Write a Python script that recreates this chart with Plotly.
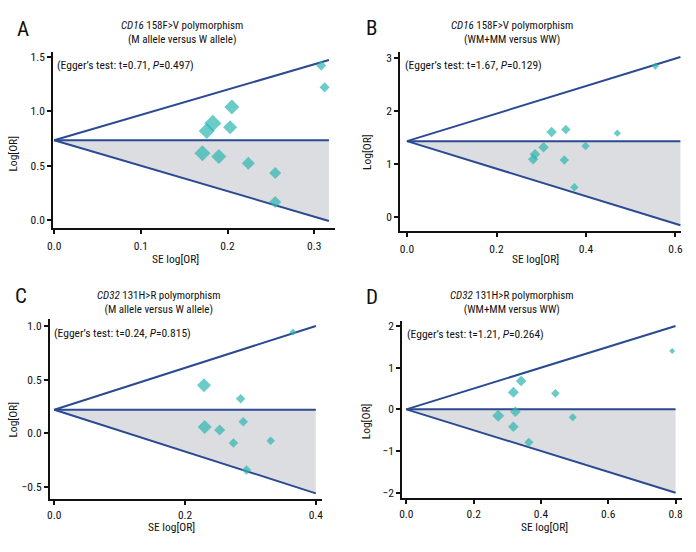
import plotly.graph_objects as go
import math

W, H = 696, 552

# ---------------- data ----------------
panel_letters = ["A", "B", "C", "D"]
panel_genes = ["CD16", "CD16", "CD32", "CD32"]
panel_variants = ["158F&gt;V polymorphism", "158F&gt;V polymorphism",
                  "131H&gt;R polymorphism", "131H&gt;R polymorphism"]
panel_models = ["(M allele versus W allele)", "(WM+MM versus WW)",
                "(M allele versus W allele)", "(WM+MM versus WW)"]
egger_t = ["0.71", "1.67", "0.24", "1.21"]
egger_p = ["0.497", "0.129", "0.815", "0.264"]

# pooled estimate and pseudo-CI limits at the largest SE
pooled = [0.733, 1.43, 0.22, 0.0]
se_end = [0.317, 0.611, 0.40, 0.80]
upper_end = [1.472, 3.01, 1.00, 2.00]
lower_end = [-0.009, -0.15, -0.559, -2.00]

A_se = [0.308, 0.312, 0.205, 0.203, 0.183, 0.176, 0.171, 0.190, 0.224, 0.255, 0.255]
A_logor = [1.42, 1.22, 1.04, 0.853, 0.89, 0.819, 0.613, 0.583, 0.521, 0.432, 0.166]
A_weight = [4.8, 4.8, 10.7, 9.3, 13.7, 12.2, 12.2, 10.7, 8.0, 6.8, 6.8]

B_se = [0.555, 0.323, 0.355, 0.470, 0.305, 0.399, 0.286, 0.282, 0.3515, 0.374]
B_logor = [2.84, 1.60, 1.65, 1.58, 1.316, 1.34, 1.184, 1.09, 1.077, 0.564]
B_weight = [6.2, 12.7, 10.3, 6.2, 12.7, 8.1, 12.7, 12.7, 10.3, 8.1]

C_se = [0.365, 0.229, 0.285, 0.289, 0.230, 0.253, 0.274, 0.331, 0.294]
C_logor = [0.944, 0.447, 0.322, 0.108, 0.059, 0.031, -0.09, -0.069, -0.342]
C_weight = [4.9, 19.7, 9.1, 9.1, 19.7, 12.2, 9.1, 7.3, 9.1]

D_se = [0.79, 0.341, 0.318, 0.443, 0.273, 0.324, 0.4945, 0.318, 0.364]
D_logor = [1.40, 0.68, 0.408, 0.384, -0.154, -0.058, -0.19, -0.418, -0.79]
D_weight = [4.1, 13.1, 13.9, 8.7, 16.6, 13.1, 7.4, 13.1, 9.9]

x_ticks = [[0.0, 0.1, 0.2, 0.3], [0.0, 0.2, 0.4, 0.6], [0.0, 0.2, 0.4], [0.0, 0.2, 0.4, 0.6, 0.8]]
x_ticklabels = [["0.0", "0.1", "0.2", "0.3"], ["0.0", "0.2", "0.4", "0.6"],
                ["0.0", "0.2", "0.4"], ["0.0", "0.2", "0.4", "0.6", "0.8"]]
y_ticks = [[0.0, 0.5, 1.0, 1.5], [0, 1, 2, 3], [-0.5, 0.0, 0.5, 1.0], [-2, -1, 0, 1, 2]]
y_ticklabels = [["0.0", "0.5", "1.0", "1.5"], ["0", "1", "2", "3"],
                ["\u22120.5", "0.0", "0.5", "1.0"], ["\u22122", "\u22121", "0", "1", "2"]]

# ---------------- styles / layout ----------------
FONT = "Roboto Condensed, DejaVu Sans Condensed, sans-serif"
TEAL = "#2bb5b0"
NAVY = "#2b4a92"
GREY = "#dcdde0"
INK = "#111"

# pixel boxes of each plotting area: (left, right, top, bottom)
boxes = [(53.3, 335.0, 51.7, 227.7), (400.3, 681.3, 51.7, 230.7),
         (50.0, 321.7, 319.3, 498.7), (402.3, 682.3, 321.0, 497.7)]
x_ranges = [[-0.001, 0.324], [-0.015, 0.613], [-0.0066, 0.409], [-0.012, 0.820]]
y_ranges = [[-0.071, 1.548], [-0.252, 3.11], [-0.609, 1.062], [-2.12, 2.12]]
max_width = [17, 10.5, 14, 12]  # pixel width of biggest diamond per panel
x_standoff = [2, 2, 0, 0]

title_pos = [(181.7, 32), (512, 32), (159.3, 302), (512, 302)]
letter_pos = [(23, 29), (371.3, 28), (20.7, 296.3), (372, 297.3)]
egger_pos = [(54.5, 65), (403, 65), (51.5, 333), (404.7, 333.7)]
xtitle_pos = [(175, 258.5), (535, 258.5), (171.7, 526.5), (544.7, 526.5)]
ytitle_pos = [(13.3, 153.3), (366.3, 151.7), (13.3, 419.3), (366.3, 421)]

series = [(A_se, A_logor, A_weight), (B_se, B_logor, B_weight),
          (C_se, C_logor, C_weight), (D_se, D_logor, D_weight)]


def px(x):
    return x / W


def py(y):
    return 1 - y / H


fig = go.Figure()
annotations = []
layout_axes = {}

for i in range(4):
    n = i + 1
    xa = "x" if n == 1 else f"x{n}"
    ya = "y" if n == 1 else f"y{n}"
    l, r, t, b = boxes[i]
    xkey = "xaxis" if n == 1 else f"xaxis{n}"
    ykey = "yaxis" if n == 1 else f"yaxis{n}"
    layout_axes[xkey] = dict(
        domain=[px(l), px(r)], range=x_ranges[i], anchor=ya, automargin=False,
        showgrid=False, zeroline=False, showline=True, linecolor=INK, linewidth=2,
        ticks="outside", ticklen=4, tickwidth=1.5, tickcolor=INK,
        tickvals=x_ticks[i], ticktext=x_ticklabels[i], ticklabelstandoff=x_standoff[i],
        tickfont=dict(family=FONT, size=11.5, color=INK),
    )
    layout_axes[ykey] = dict(
        domain=[py(b), py(t)], range=y_ranges[i], anchor=xa, automargin=False,
        showgrid=False, zeroline=False, showline=True, linecolor=INK, linewidth=2,
        ticks="outside", ticklen=4, tickwidth=1.5, tickcolor=INK,
        tickvals=y_ticks[i], ticktext=y_ticklabels[i],
        tickfont=dict(family=FONT, size=11.5, color=INK),
    )

    # shaded lower triangle
    fig.add_trace(go.Scatter(
        x=[0, se_end[i], se_end[i], 0], y=[pooled[i], pooled[i], lower_end[i], pooled[i]],
        mode="lines", fill="toself", fillcolor=GREY, line=dict(width=0),
        xaxis=xa, yaxis=ya, showlegend=False, hoverinfo="skip"))
    # funnel lines
    fig.add_trace(go.Scatter(
        x=[se_end[i], 0, se_end[i]], y=[upper_end[i], pooled[i], lower_end[i]],
        mode="lines", line=dict(color=NAVY, width=2),
        xaxis=xa, yaxis=ya, showlegend=False, hoverinfo="skip"))
    fig.add_trace(go.Scatter(
        x=[0, se_end[i]], y=[pooled[i], pooled[i]],
        mode="lines", line=dict(color=NAVY, width=2),
        xaxis=xa, yaxis=ya, showlegend=False, hoverinfo="skip"))
    # studies
    se, lo, wt = series[i]
    wmax = max(wt)
    sizes = [max_width[i] * math.sqrt(w / wmax) / 1.3 for w in wt]
    fig.add_trace(go.Scatter(
        x=se, y=lo, mode="markers",
        marker=dict(symbol="diamond", size=sizes, color=TEAL, line=dict(width=0)),
        xaxis=xa, yaxis=ya, showlegend=False))

    # texts
    tx, ty = title_pos[i]
    annotations.append(dict(
        x=px(tx), y=py(ty), xref="paper", yref="paper", xanchor="center", yanchor="middle",
        text=f"<i>{panel_genes[i]}</i> {panel_variants[i]}<br>{panel_models[i]}",
        showarrow=False, font=dict(family=FONT, size=11, color=INK)))
    lx, ly = letter_pos[i]
    annotations.append(dict(
        x=px(lx), y=py(ly), xref="paper", yref="paper", xanchor="center", yanchor="middle",
        text=panel_letters[i], showarrow=False, font=dict(family=FONT, size=21, color=INK)))
    ex, ey = egger_pos[i]
    annotations.append(dict(
        x=px(ex), y=py(ey), xref="paper", yref="paper", xanchor="left", yanchor="middle",
        text=f"(Egger\u2019s test: t={egger_t[i]}, <i>P</i>={egger_p[i]})",
        showarrow=False, font=dict(family=FONT, size=11.5, color=INK)))
    axx, axy = xtitle_pos[i]
    annotations.append(dict(
        x=px(axx), y=py(axy), xref="paper", yref="paper", xanchor="center", yanchor="middle",
        text="SE log[OR]", showarrow=False, font=dict(family=FONT, size=11.5, color=INK)))
    ayx, ayy = ytitle_pos[i]
    annotations.append(dict(
        x=px(ayx), y=py(ayy), xref="paper", yref="paper", xanchor="center", yanchor="middle",
        text="Log[OR]", textangle=-90, showarrow=False,
        font=dict(family=FONT, size=11.5, color=INK)))

fig.update_layout(
    width=W, height=H, margin=dict(l=0, r=0, t=0, b=0, autoexpand=False),
    paper_bgcolor="white", plot_bgcolor="white",
    annotations=annotations, **layout_axes)

fig.write_html("out.html", config={"displayModeBar": False},
               post_script="document.body.style.margin='0';document.body.style.overflow='hidden';")
